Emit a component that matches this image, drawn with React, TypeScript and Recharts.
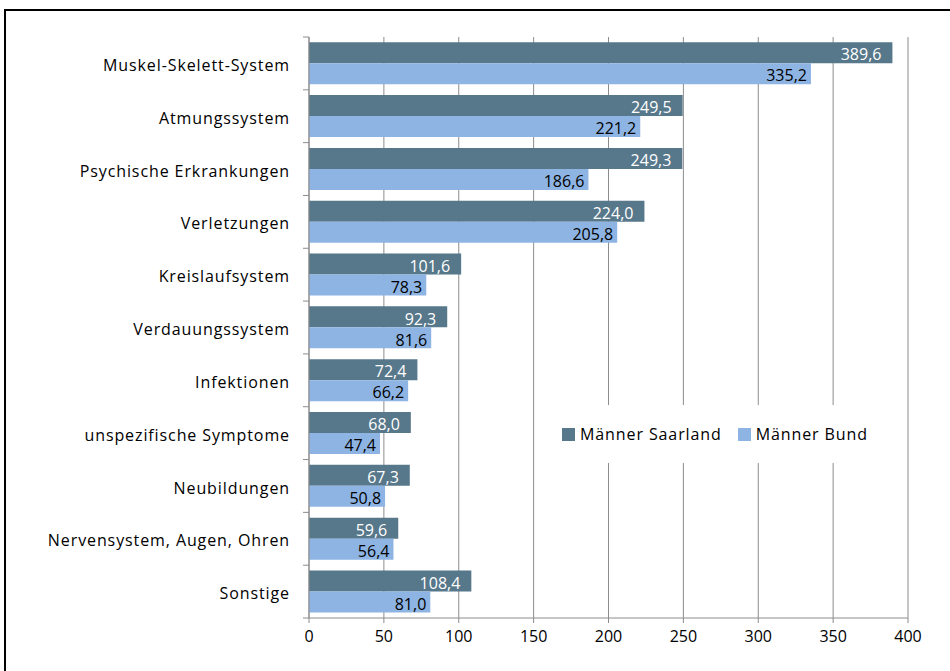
import { BarChart, Bar, XAxis, YAxis, CartesianGrid, LabelList } from 'recharts'

const categories = [
  'Muskel-Skelett-System',
  'Atmungssystem',
  'Psychische Erkrankungen',
  'Verletzungen',
  'Kreislaufsystem',
  'Verdauungssystem',
  'Infektionen',
  'unspezifische Symptome',
  'Neubildungen',
  'Nervensystem, Augen, Ohren',
  'Sonstige',
]
const saarland = [389.6, 249.5, 249.3, 224.0, 101.6, 92.3, 72.4, 68.0, 67.3, 59.6, 108.4]
const bund = [335.2, 221.2, 186.6, 205.8, 78.3, 81.6, 66.2, 47.4, 50.8, 56.4, 81.0]
const xTicks = [0, 50, 100, 150, 200, 250, 300, 350, 400]

const DARK = '#57778a'
const LIGHT = '#8eb4e3'
const FONT = '"Open Sans", "Liberation Sans", sans-serif'

const W = 950
const H = 671
const M = { top: 37, right: 42, left: 0, bottom: 0 }
const X_AXIS_H = 53
const BAND = (H - M.top - M.bottom - X_AXIS_H) / categories.length

const data = categories.map((name, i) => ({ name, saarland: saarland[i], bund: bund[i] }))

const fmt = (v: number) => v.toFixed(1).replace('.', ',')

function CategoryTick(props: any) {
  const { x, y, payload, index } = props
  const axisX = x + 8
  return (
    <g>
      <line x1={axisX} x2={axisX - 6} y1={y - BAND / 2} y2={y - BAND / 2} stroke="#8c8c8c" />
      {index === categories.length - 1 && (
        <line x1={axisX} x2={axisX - 6} y1={y + BAND / 2} y2={y + BAND / 2} stroke="#8c8c8c" />
      )}
      <text
        x={axisX - 19}
        y={y + 2}
        dy="0.35em"
        textAnchor="end"
        fontSize={16}
        letterSpacing={0.9}
        fontFamily={FONT}
        fill="#000"
      >
        {payload.value}
      </text>
    </g>
  )
}

function LegendBox() {
  const item = (color: string, label: string) => (
    <span style={{ display: 'inline-flex', alignItems: 'center', marginRight: 16 }}>
      <span style={{ width: 13, height: 13, background: color, display: 'inline-block', marginRight: 5 }} />
      {label}
    </span>
  )
  return (
    <div
      style={{
        position: 'absolute',
        left: 540,
        top: 405,
        width: 355,
        height: 58,
        background: '#fff',
        display: 'flex',
        alignItems: 'center',
        paddingLeft: 22,
        boxSizing: 'border-box',
        fontFamily: FONT,
        fontSize: 16,
        letterSpacing: 0.9,
        color: '#000',
      }}
    >
      {item(DARK, 'Männer Saarland')}
      {item(LIGHT, 'Männer Bund')}
    </div>
  )
}

export default function App() {
  return (
    <div style={{ position: 'fixed', left: 0, top: 0, width: W, height: H, background: '#fff', overflow: 'hidden' }}>
      <div
        style={{
          position: 'absolute',
          left: 4,
          top: 9,
          width: 980,
          height: 700,
          border: '2px solid #000',
          boxSizing: 'border-box',
        }}
      />
      <div style={{ position: 'absolute', left: 0, top: 0 }}>
        <BarChart
          width={W}
          height={H}
          data={data}
          layout="vertical"
          margin={M}
          barCategoryGap="10%"
          barGap={0}
        >
          <CartesianGrid horizontal={false} stroke="#8c8c8c" strokeWidth={1} />
          <XAxis
            type="number"
            domain={[0, 400]}
            ticks={xTicks}
            height={X_AXIS_H}
            stroke="#8c8c8c"
            tickSize={5}
            tickMargin={8}
            tick={{ fill: '#000', fontSize: 16, fontFamily: FONT }}
            interval={0}
          />
          <YAxis
            type="category"
            dataKey="name"
            width={309}
            stroke="#8c8c8c"
            tickLine={false}
            tick={<CategoryTick />}
            interval={0}
          />
          <Bar dataKey="saarland" fill={DARK} isAnimationActive={false}>
            <LabelList
              dataKey="saarland"
              position="insideRight"
              offset={11}
              dy={2}
              formatter={(v: any) => fmt(Number(v))}
              fill="#fff"
              fontSize={16}
              fontFamily={FONT}
            />
          </Bar>
          <Bar dataKey="bund" fill={LIGHT} isAnimationActive={false}>
            <LabelList
              dataKey="bund"
              position="insideRight"
              offset={4}
              dy={2}
              formatter={(v: any) => fmt(Number(v))}
              fill="#000"
              fontSize={16}
              fontFamily={FONT}
            />
          </Bar>
        </BarChart>
      </div>
      <LegendBox />
    </div>
  )
}
